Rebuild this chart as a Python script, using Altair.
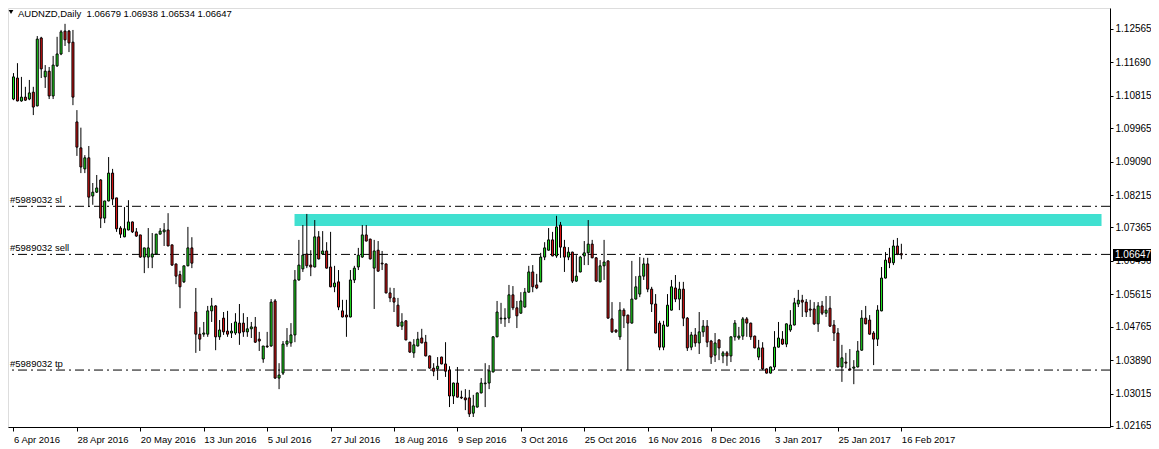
import altair as alt
import pandas as pd

# ---------------- data ----------------
opens = [
    1.1073, 1.1128, 1.1068, 1.1078, 1.1073, 1.1091, 1.1055, 1.1233, 1.1131, 1.1146,
    1.1081, 1.1160, 1.1191, 1.1251, 1.1251, 1.1222, 1.1013, 1.0945, 1.0890, 1.0919,
    1.0819, 1.0829, 1.0861, 1.0761, 1.0806, 1.0879, 1.0814, 1.0735, 1.0712, 1.0730,
    1.0751, 1.0725, 1.0717, 1.0659, 1.0659, 1.0659, 1.0667, 1.0719, 1.0725, 1.0730,
    1.0691, 1.0641, 1.0613, 1.0594, 1.0636, 1.0683, 1.0515, 1.0457, 1.0457, 1.0457,
    1.0518, 1.0531, 1.0450, 1.0499, 1.0465, 1.0460, 1.0460, 1.0486, 1.0486, 1.0463,
    1.0471, 1.0476, 1.0444, 1.0392, 1.0426, 1.0426, 1.0544, 1.0342, 1.0355, 1.0431,
    1.0434, 1.0455, 1.0599, 1.0628, 1.0667, 1.0638, 1.0633, 1.0712, 1.0667, 1.0675,
    1.0633, 1.0581, 1.0594, 1.0518, 1.0507, 1.0502, 1.0599, 1.0633, 1.0659, 1.0717,
    1.0706, 1.0630, 1.0677, 1.0643, 1.0641, 1.0565, 1.0552, 1.0533, 1.0478, 1.0492,
    1.0436, 1.0408, 1.0426, 1.0447, 1.0436, 1.0400, 1.0368, 1.0366, 1.0397, 1.0379,
    1.0363, 1.0295, 1.0329, 1.0292, 1.0290, 1.0290, 1.0250, 1.0266, 1.0303, 1.0327,
    1.0329, 1.0358, 1.0450, 1.0497, 1.0497, 1.0499, 1.0560, 1.0526, 1.0512, 1.0528,
    1.0567, 1.0620, 1.0586, 1.0594, 1.0659, 1.0677, 1.0704, 1.0662, 1.0743, 1.0685,
    1.0659, 1.0672, 1.0596, 1.0620, 1.0662, 1.0670, 1.0693, 1.0657, 1.0594, 1.0636,
    1.0649, 1.0497, 1.0468, 1.0450, 1.0520, 1.0507, 1.0486, 1.0549, 1.0562, 1.0609,
    1.0641, 1.0575, 1.0536, 1.0486, 1.0423, 1.0478, 1.0520, 1.0578, 1.0549, 1.0575,
    1.0499, 1.0423, 1.0455, 1.0434, 1.0463, 1.0478, 1.0439, 1.0402, 1.0442, 1.0400,
    1.0408, 1.0400, 1.0450, 1.0447, 1.0452, 1.0497, 1.0486, 1.0452, 1.0397, 1.0421,
    1.0366, 1.0355, 1.0371, 1.0423, 1.0444, 1.0431, 1.0468, 1.0481, 1.0536, 1.0546,
    1.0541, 1.0523, 1.0523, 1.0484, 1.0531, 1.0512, 1.0525, 1.0481, 1.0460, 1.0371,
    1.0384, 1.0366, 1.0368, 1.0371, 1.0415, 1.0499, 1.0494, 1.0460, 1.0444, 1.0518,
    1.0604, 1.0657, 1.0644, 1.0688, 1.06679,
]
highs = [
    1.1141, 1.1167, 1.1131, 1.1105, 1.1123, 1.1105, 1.1238, 1.1236, 1.1162, 1.1157,
    1.1186, 1.1236, 1.1254, 1.1270, 1.1254, 1.1254, 1.1044, 1.0998, 1.0926, 1.0950,
    1.0853, 1.0874, 1.0863, 1.0806, 1.0921, 1.0890, 1.0814, 1.0740, 1.0790, 1.0808,
    1.0752, 1.0735, 1.0717, 1.0683, 1.0735, 1.0722, 1.0720, 1.0735, 1.0748, 1.0774,
    1.0691, 1.0641, 1.0623, 1.0636, 1.0738, 1.0711, 1.0578, 1.0475, 1.0489, 1.0531,
    1.0552, 1.0533, 1.0494, 1.0515, 1.0518, 1.0486, 1.0512, 1.0536, 1.0512, 1.0502,
    1.0489, 1.0502, 1.0463, 1.0426, 1.0463, 1.0549, 1.0549, 1.0381, 1.0439, 1.0473,
    1.0486, 1.0625, 1.0704, 1.0743, 1.0772, 1.0677, 1.0756, 1.0727, 1.0727, 1.0698,
    1.0725, 1.0636, 1.0625, 1.0547, 1.0547, 1.0625, 1.0636, 1.0683, 1.0743, 1.0743,
    1.0707, 1.0704, 1.0701, 1.0675, 1.0642, 1.0579, 1.0578, 1.0552, 1.0512, 1.0493,
    1.0437, 1.0444, 1.0463, 1.0471, 1.0455, 1.0401, 1.0381, 1.0397, 1.0398, 1.0436,
    1.0373, 1.0330, 1.0371, 1.0309, 1.0313, 1.0311, 1.0298, 1.0304, 1.0342, 1.0381,
    1.0376, 1.0452, 1.0544, 1.0539, 1.0525, 1.0586, 1.0583, 1.0544, 1.0567, 1.0578,
    1.0636, 1.0638, 1.0615, 1.0670, 1.0698, 1.0735, 1.0725, 1.0767, 1.0751, 1.0704,
    1.0685, 1.0673, 1.0664, 1.0662, 1.0701, 1.0756, 1.0704, 1.0659, 1.0651, 1.0704,
    1.0650, 1.0541, 1.0469, 1.0541, 1.0525, 1.0508, 1.0649, 1.0609, 1.0659, 1.0657,
    1.0657, 1.0581, 1.0562, 1.0492, 1.0492, 1.0562, 1.0599, 1.0612, 1.0594, 1.0594,
    1.0502, 1.0463, 1.0473, 1.0515, 1.0494, 1.0494, 1.0442, 1.0460, 1.0443, 1.0413,
    1.0413, 1.0451, 1.0494, 1.0476, 1.0502, 1.0502, 1.0487, 1.0453, 1.0442, 1.0436,
    1.0367, 1.0372, 1.0465, 1.0489, 1.0465, 1.0485, 1.0520, 1.0552, 1.0573, 1.0560,
    1.0549, 1.0547, 1.0541, 1.0541, 1.0544, 1.0557, 1.0557, 1.0494, 1.0473, 1.0429,
    1.0408, 1.0418, 1.0389, 1.0439, 1.0520, 1.0531, 1.0507, 1.0465, 1.0533, 1.0633,
    1.0672, 1.0683, 1.0704, 1.0709, 1.06938,
]
lows = [
    1.1070, 1.1067, 1.1066, 1.1068, 1.1070, 1.1031, 1.1054, 1.1128, 1.1102, 1.1073,
    1.1073, 1.1157, 1.1188, 1.1212, 1.1196, 1.1057, 1.0924, 1.0879, 1.0879, 1.0790,
    1.0796, 1.0827, 1.0735, 1.0748, 1.0805, 1.0795, 1.0725, 1.0709, 1.0711, 1.0729,
    1.0722, 1.0712, 1.0657, 1.0617, 1.0630, 1.0630, 1.0666, 1.0719, 1.0688, 1.0688,
    1.0636, 1.0588, 1.0525, 1.0591, 1.0635, 1.0630, 1.0408, 1.0413, 1.0450, 1.0450,
    1.0489, 1.0415, 1.0442, 1.0455, 1.0450, 1.0447, 1.0455, 1.0429, 1.0450, 1.0450,
    1.0447, 1.0434, 1.0413, 1.0382, 1.0421, 1.0424, 1.0340, 1.0313, 1.0350, 1.0424,
    1.0424, 1.0436, 1.0597, 1.0620, 1.0630, 1.0609, 1.0632, 1.0653, 1.0666, 1.0629,
    1.0580, 1.0567, 1.0520, 1.0501, 1.0450, 1.0501, 1.0591, 1.0625, 1.0657, 1.0700,
    1.0653, 1.0523, 1.0621, 1.0625, 1.0564, 1.0541, 1.0515, 1.0477, 1.0468, 1.0441,
    1.0408, 1.0395, 1.0425, 1.0433, 1.0399, 1.0367, 1.0347, 1.0337, 1.0378, 1.0345,
    1.0266, 1.0274, 1.0291, 1.0287, 1.0258, 1.0240, 1.0240, 1.0265, 1.0302, 1.0266,
    1.0313, 1.0357, 1.0449, 1.0484, 1.0476, 1.0486, 1.0520, 1.0473, 1.0511, 1.0527,
    1.0566, 1.0567, 1.0575, 1.0593, 1.0651, 1.0676, 1.0661, 1.0657, 1.0657, 1.0620,
    1.0651, 1.0591, 1.0594, 1.0619, 1.0638, 1.0638, 1.0656, 1.0594, 1.0593, 1.0599,
    1.0498, 1.0460, 1.0460, 1.0442, 1.0473, 1.0363, 1.0485, 1.0548, 1.0554, 1.0599,
    1.0567, 1.0515, 1.0459, 1.0415, 1.0415, 1.0477, 1.0519, 1.0541, 1.0520, 1.0478,
    1.0413, 1.0415, 1.0424, 1.0405, 1.0450, 1.0423, 1.0379, 1.0384, 1.0389, 1.0381,
    1.0374, 1.0384, 1.0440, 1.0442, 1.0442, 1.0450, 1.0442, 1.0420, 1.0389, 1.0363,
    1.0354, 1.0354, 1.0363, 1.0422, 1.0429, 1.0423, 1.0463, 1.0480, 1.0528, 1.0502,
    1.0502, 1.0502, 1.0481, 1.0463, 1.0507, 1.0502, 1.0476, 1.0439, 1.0370, 1.0332,
    1.0368, 1.0362, 1.0326, 1.0370, 1.0414, 1.0483, 1.0456, 1.0376, 1.0426, 1.0517,
    1.0603, 1.0630, 1.0638, 1.0664, 1.06534,
]
closes = [
    1.1131, 1.1068, 1.1078, 1.1070, 1.1089, 1.1052, 1.1230, 1.1152, 1.1146, 1.1081,
    1.1162, 1.1191, 1.1249, 1.1228, 1.1220, 1.1078, 1.0947, 1.0895, 1.0919, 1.0816,
    1.0829, 1.0840, 1.0761, 1.0806, 1.0879, 1.0811, 1.0733, 1.0719, 1.0733, 1.0751,
    1.0725, 1.0714, 1.0659, 1.0683, 1.0683, 1.0667, 1.0719, 1.0727, 1.0730, 1.0688,
    1.0638, 1.0609, 1.0581, 1.0636, 1.0683, 1.0643, 1.0457, 1.0444, 1.0460, 1.0518,
    1.0531, 1.0450, 1.0468, 1.0463, 1.0457, 1.0465, 1.0489, 1.0460, 1.0463, 1.0471,
    1.0476, 1.0436, 1.0439, 1.0426, 1.0424, 1.0541, 1.0342, 1.0350, 1.0431, 1.0439,
    1.0455, 1.0599, 1.0638, 1.0664, 1.0636, 1.0633, 1.0712, 1.0654, 1.0675, 1.0630,
    1.0581, 1.0591, 1.0528, 1.0502, 1.0502, 1.0599, 1.0630, 1.0664, 1.0717, 1.0701,
    1.0654, 1.0675, 1.0622, 1.0641, 1.0565, 1.0552, 1.0541, 1.0478, 1.0489, 1.0442,
    1.0410, 1.0429, 1.0444, 1.0434, 1.0400, 1.0368, 1.0360, 1.0373, 1.0379, 1.0360,
    1.0295, 1.0329, 1.0292, 1.0290, 1.0285, 1.0248, 1.0269, 1.0303, 1.0329, 1.0329,
    1.0361, 1.0450, 1.0515, 1.0499, 1.0499, 1.0560, 1.0526, 1.0505, 1.0544, 1.0567,
    1.0620, 1.0581, 1.0578, 1.0659, 1.0683, 1.0704, 1.0662, 1.0738, 1.0685, 1.0659,
    1.0672, 1.0596, 1.0609, 1.0659, 1.0670, 1.0693, 1.0657, 1.0596, 1.0636, 1.0646,
    1.0499, 1.0463, 1.0463, 1.0520, 1.0505, 1.0486, 1.0549, 1.0581, 1.0609, 1.0641,
    1.0575, 1.0536, 1.0460, 1.0423, 1.0481, 1.0533, 1.0581, 1.0549, 1.0575, 1.0499,
    1.0421, 1.0455, 1.0434, 1.0463, 1.0478, 1.0436, 1.0397, 1.0434, 1.0421, 1.0408,
    1.0400, 1.0450, 1.0486, 1.0452, 1.0497, 1.0486, 1.0450, 1.0421, 1.0421, 1.0366,
    1.0355, 1.0371, 1.0423, 1.0447, 1.0431, 1.0484, 1.0481, 1.0539, 1.0546, 1.0541,
    1.0515, 1.0520, 1.0484, 1.0531, 1.0512, 1.0520, 1.0478, 1.0460, 1.0371, 1.0395,
    1.0381, 1.0363, 1.0371, 1.0413, 1.0499, 1.0484, 1.0457, 1.0444, 1.0520, 1.0604,
    1.0651, 1.0644, 1.0688, 1.0667, 1.06647,
]

# labelled trading days (bar number -> date text)
tick_bars = [0, 16, 32, 48, 64, 80, 96, 112, 128, 144, 160, 176, 192, 208, 224]
tick_labels = ["6 Apr 2016", "28 Apr 2016", "20 May 2016", "13 Jun 2016", "5 Jul 2016",
               "27 Jul 2016", "18 Aug 2016", "9 Sep 2016", "3 Oct 2016", "25 Oct 2016",
               "16 Nov 2016", "8 Dec 2016", "3 Jan 2017", "25 Jan 2017", "16 Feb 2017"]
price_ticks = [1.12565, 1.11690, 1.10815, 1.09965, 1.09090, 1.08215, 1.07365,
               1.06490, 1.05615, 1.04765, 1.03890, 1.03015, 1.02165]

order_names = ["#5989032 sl", "#5989032 sell", "#5989032 tp"]
order_levels = [1.0792, 1.0666, 1.0363]

zone_bars = [70.9, 274.5]
zone_prices = [1.07404, 1.07718]

symbol = "AUDNZD,Daily"

# ---------------- tables ----------------
n = len(opens)
df = pd.DataFrame({"bar": list(range(n)), "open": opens, "high": highs,
                   "low": lows, "close": closes})
df["high"] = df[["open", "high", "close"]].max(axis=1)
df["low"] = df[["open", "low", "close"]].min(axis=1)
df["dir"] = ["up" if c >= o else "down" for o, c in zip(opens, closes)]

orders = pd.DataFrame({"name": order_names, "level": order_levels})
zone = pd.DataFrame({"x1": [zone_bars[0]], "x2": [zone_bars[1]],
                     "y1": [zone_prices[0]], "y2": [zone_prices[1]]})
last = pd.DataFrame({"price": [closes[-1]], "label": [f"{closes[-1]:.5f}"]})
header = pd.DataFrame({"t": [f"{symbol}\u00a0 {opens[-1]:.5f} {highs[-1]:.5f} "
                             f"{lows[-1]:.5f} {closes[-1]:.5f}"]})

FONT = "Liberation Sans"
label_map = "{" + ",".join(f"{b}:'{t}'" for b, t in zip(tick_bars, tick_labels)) + "}"

W, H = 1102, 419
xscale = alt.Scale(domain=[-0.125, -0.125 + W / 4], nice=False, zero=False)
yscale = alt.Scale(domain=[1.02138, 1.13115], nice=False, zero=False)
xaxis = alt.Axis(values=tick_bars, labelExpr=label_map + "[datum.value]", title=None,
                 grid=False, tickSize=4, tickColor="black", domainColor="black",
                 labelAlign="left", labelPadding=3, labelFont=FONT, labelFontSize=9.5,
                 labelColor="black", labelOverlap=False, labelFlush=False)
yaxis = alt.Axis(values=price_ticks, format=".5f", orient="right", title=None, grid=False,
                 tickSize=3, tickColor="black", domainColor="black", labelAlign="left",
                 labelBaseline="middle", labelPadding=2, labelFont=FONT,
                 labelFontSize=10, labelColor="black", labelOverlap=False,
                 labelFlush=False)


def X(f):
    return alt.X(f, type="quantitative", scale=xscale, axis=xaxis)


def Y(f):
    return alt.Y(f, type="quantitative", scale=yscale, axis=yaxis)


zone_layer = alt.Chart(zone).mark_rect(color="#40E0D0", clip=True).encode(
    x=X("x1"), x2="x2", y=Y("y1"), y2="y2")

order_lines = alt.Chart(orders).mark_rule(
    color="black", strokeWidth=1, strokeDash=[9, 4, 2, 4]).encode(y=Y("level"))

order_text = alt.Chart(orders).mark_text(
    align="left", baseline="alphabetic", dy=-3, font=FONT, fontSize=9.5,
    color="black").encode(x=alt.value(2), y=Y("level"), text="name:N")

wicks = alt.Chart(df).mark_rule(color="black", strokeWidth=1, clip=True).encode(
    x=X("bar"), y=Y("low"), y2="high")

bodies = alt.Chart(df).mark_bar(width=2, stroke="black", strokeWidth=1, clip=True).encode(
    x=X("bar"), y=Y("open"), y2="close",
    color=alt.Color("dir:N", legend=None,
                    scale=alt.Scale(domain=["up", "down"], range=["#1fe61f", "#e01414"])))

tri = alt.Chart(header).mark_point(shape="triangle-down", filled=True, color="black",
                                   size=22, opacity=1).encode(
    x=alt.value(3), y=alt.value(4))

head_text = alt.Chart(header).mark_text(
    align="left", baseline="alphabetic", font=FONT, fontSize=9.5, color="black").encode(
    x=alt.value(10), y=alt.value(8.5), text="t:N")

price_box = alt.Chart(last).mark_rect(color="black", yOffset=-6, y2Offset=6).encode(
    x=alt.value(W + 3), x2=alt.value(W + 41), y=Y("price"), y2="price")

price_text = alt.Chart(last).mark_text(
    align="left", baseline="middle", font=FONT, fontSize=10, color="white").encode(
    x=alt.value(W + 5), y=Y("price"), text="label:N")

chart = alt.layer(
    zone_layer, order_lines, wicks, bodies, order_text, tri, head_text,
    price_box, price_text
).properties(
    width=W, height=H,
    autosize=alt.AutoSizeParams(type="none"),
    padding={"left": 0, "top": 0, "right": 41, "bottom": 20},
).configure_view(stroke="black", strokeWidth=1).configure(background="white")

chart.save("out.html", embed_options={"renderer": "svg", "actions": False})
